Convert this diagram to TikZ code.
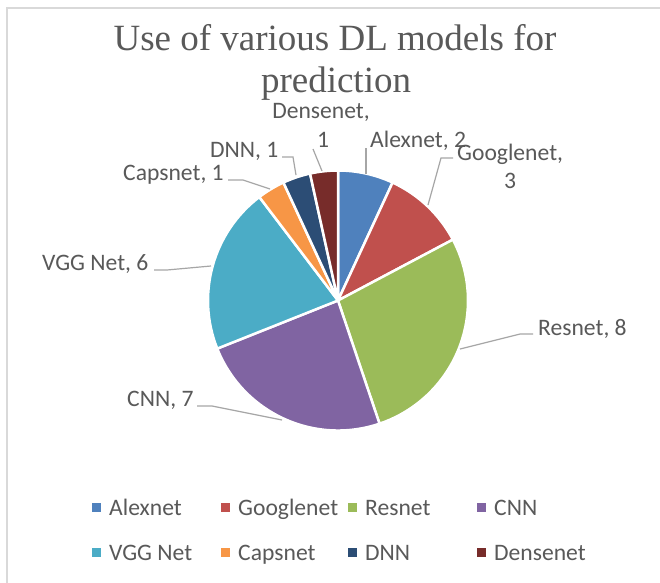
\documentclass[tikz,border=0pt]{standalone}
\usepackage{fontspec}
\setmainfont{Carlito}
\newfontfamily\titlefont{Liberation Serif}
\definecolor{txt}{HTML}{595959}
\definecolor{cAlex}{HTML}{4F81BD}
\definecolor{cGoog}{HTML}{C0504D}
\definecolor{cRes}{HTML}{9BBB59}
\definecolor{cCNN}{HTML}{8064A2}
\definecolor{cVGG}{HTML}{4BACC6}
\definecolor{cCaps}{HTML}{F79646}
\definecolor{cDNN}{HTML}{2C4D75}
\definecolor{cDense}{HTML}{772C2A}
\definecolor{frame}{HTML}{D9D9D9}
\definecolor{lead}{HTML}{A6A6A6}
\begin{document}
\begin{tikzpicture}[x=1pt,y=-1pt,
  lbl/.style={font=\fontsize{23.6}{28}\selectfont, text=txt, inner sep=0pt},
  ttl/.style={font=\titlefont\fontsize{37}{42}\selectfont, text=txt, inner sep=0pt},
  leader/.style={draw=lead, line width=1.2pt},
  slice/.style={draw=white, line width=2.5pt, line join=round},
  legbox/.style={minimum size=9pt, inner sep=0pt, anchor=north west}]
\useasboundingbox (0,0) rectangle (660,582);
\fill[white] (0,0) rectangle (660,582);
% frame
\draw[frame, line width=1.5pt] (7,590) -- (7,8) -- (670,8);
% title
\node[ttl, anchor=base] (t1) at (335,50) {Use of various DL models for};
\node[ttl, anchor=base] (t2) at (336,92) {prediction};
% pie
\coordinate (c) at (338,300.5);
\foreach \a/\b/\col in {0/2/cAlex, 2/5/cGoog, 5/13/cRes, 13/20/cCNN, 20/26/cVGG, 26/27/cCaps, 27/28/cDNN, 28/29/cDense}{
  \filldraw[slice, fill=\col] (c) -- ++({-90+\a*360/29}:130) arc[start angle={-90+\a*360/29}, end angle={-90+\b*360/29}, radius=130] -- cycle;
}
% data labels
\node[lbl, anchor=base] (lDense) at (321,118) {Densenet,};
\node[lbl, anchor=base] (lDense2) at (323,147) {1};
\node[lbl, anchor=base west] (lAlex) at (370,147) {Alexnet, 2};
\node[lbl, anchor=base west] (lGoog) at (457,160) {Googlenet,};
\node[lbl, anchor=base] (lGoog2) at (510,188) {3};
\node[lbl, anchor=base west] (lRes) at (538,335) {Resnet, 8};
\node[lbl, anchor=base west] (lVGG) at (42,270) {VGG Net, 6};
\node[lbl, anchor=base west] (lCNN) at (127,406) {CNN, 7};
\node[lbl, anchor=base west] (lCaps) at (123,180) {Capsnet, 1};
\node[lbl, anchor=base west] (lDNN) at (210,157) {DNN, 1};
% leader lines
\coordinate (dense0) at (313,149); \coordinate (dense1) at (322,171);
\draw[leader] (dense0) -- (dense1);
\coordinate (alex0) at (366,148); \coordinate (alex1) at (366,174);
\draw[leader] (alex0) -- (alex1);
\coordinate (goog0) at (453,158); \coordinate (goog1) at (441,158); \coordinate (goog2) at (428,205);
\draw[leader] (goog0) -- (goog1) -- (goog2);
\coordinate (res0) at (533,334); \coordinate (res1) at (520,334); \coordinate (res2) at (460,349);
\draw[leader] (res0) -- (res1) -- (res2);
\coordinate (vgg0) at (154,270); \coordinate (vgg1) at (167,270); \coordinate (vgg2) at (211,266);
\draw[leader] (vgg0) -- (vgg1) -- (vgg2);
\coordinate (cnn0) at (197,406); \coordinate (cnn1) at (212,406); \coordinate (cnn2) at (282,420);
\draw[leader] (cnn0) -- (cnn1) -- (cnn2);
\coordinate (caps0) at (228,180); \coordinate (caps1) at (243,180); \coordinate (caps2) at (270,189);
\draw[leader] (caps0) -- (caps1) -- (caps2);
\coordinate (dnn0) at (282,157); \coordinate (dnn1) at (293,157); \coordinate (dnn2) at (296,175);
\draw[leader] (dnn0) -- (dnn1) -- (dnn2);
% legend
\foreach \nm/\col/\x/\y in {Alexnet/cAlex/92/503, Googlenet/cGoog/221/503, Resnet/cRes/348/503, CNN/cCNN/477/503,
  VGG Net/cVGG/92/548, Capsnet/cCaps/221/548, DNN/cDNN/348/548, Densenet/cDense/477/548}{
  \node[legbox, fill=\col] (m\nm) at (\x,\y) {};
  \node[lbl, anchor=base west] (g\nm) at ({\x+17},{\y+12}) {\nm};
}
\end{tikzpicture}
\end{document}
